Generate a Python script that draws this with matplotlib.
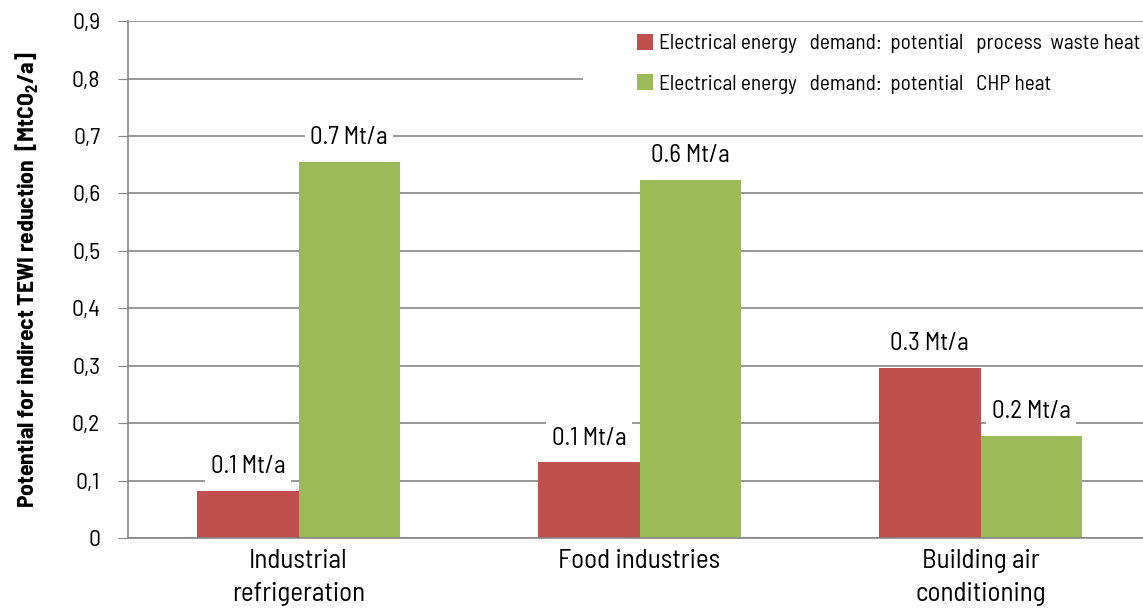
import numpy as np
import matplotlib
matplotlib.use("Agg")
import matplotlib.pyplot as plt
from matplotlib.patches import Rectangle

categories = ["Industrial\nrefrigeration", "Food industries", "Building air\nconditioning"]
waste_heat = [0.082, 0.132, 0.296]
chp_heat = [0.655, 0.624, 0.178]
waste_labels = ["0.1 Mt/a", "0.1 Mt/a", "0.3 Mt/a"]
chp_labels = ["0.7 Mt/a", "0.6 Mt/a", "0.2 Mt/a"]
yticks = [0, 0.1, 0.2, 0.3, 0.4, 0.5, 0.6, 0.7, 0.8, 0.9]
ytick_labels = ["0", "0,1", "0,2", "0,3", "0,4", "0,5", "0,6", "0,7", "0,8", "0,9"]

plt.rcParams['font.family'] = ['Barlow Semi Condensed', 'Roboto Condensed', 'PT Sans Narrow',
                               'Sofia Sans Semi Condensed', 'DejaVu Sans']
plt.rcParams['mathtext.fontset'] = 'custom'
plt.rcParams['mathtext.rm'] = 'Barlow Semi Condensed:bold'
plt.rcParams['mathtext.bf'] = 'Barlow Semi Condensed:bold'

red = "#C0504D"
green = "#9BBB59"
grid_c = "#868686"

fig = plt.figure(figsize=(11.43, 6.11), dpi=100)
ax = fig.add_axes([0.112, 0.1195, 0.895, 0.846])

x = np.arange(len(categories))
w = 0.297
b1 = ax.bar(x - w / 2, waste_heat, w, color=red, zorder=2,
            label="Electrical energy   demand:  potential   process  waste heat")
b2 = ax.bar(x + w / 2, chp_heat, w, color=green, zorder=2,
            label="Electrical energy   demand:  potential   CHP heat")

for rect, lab in list(zip(b1, waste_labels)) + list(zip(b2, chp_labels)):
    ax.annotate(lab, (rect.get_x() + rect.get_width() / 2, rect.get_height()),
                xytext=(0, 9), textcoords="offset points", ha="center", va="bottom",
                fontsize=18, zorder=3,
                bbox=dict(facecolor="white", edgecolor="none", pad=4))

ax.set_xlim(-0.5, 2.5)
ax.set_ylim(0, 0.9)
ax.set_yticks(yticks)
ax.set_yticklabels(ytick_labels, fontsize=17)
ax.set_xticks(x)
ax.set_xticklabels(categories, fontsize=19.5, linespacing=1.45)
ax.tick_params(axis="x", length=0, pad=8)
ax.tick_params(axis="y", length=7, color=grid_c, pad=13)
ax.yaxis.grid(True, color=grid_c, linewidth=1.2, zorder=0)
ax.set_axisbelow(True)
for s in ["top", "right"]:
    ax.spines[s].set_visible(False)
ax.spines["left"].set_color(grid_c)
ax.spines["bottom"].set_color(grid_c)
ax.spines["left"].set_linewidth(1.2)
ax.spines["bottom"].set_linewidth(1.2)

ax.set_ylabel("Potential for indirect TEWI reduction  [MtCO$_\\mathbf{2}$/a]", fontsize=17,
              fontweight="bold", labelpad=22)

# white area behind the legend, covering the gridlines
ax.add_patch(Rectangle((0.445, 0.805), 0.6, 0.175, transform=ax.transAxes,
                       facecolor="white", edgecolor="none", zorder=1))

leg = ax.legend(loc="upper left", bbox_to_anchor=(0.498, 0.975), frameon=False,
                fontsize=15.3, handlelength=0.75, handleheight=0.75, handletextpad=0.25,
                labelspacing=1.0, borderaxespad=0, borderpad=0)
leg.set_zorder(4)

fig.savefig("out.png", dpi=100)
